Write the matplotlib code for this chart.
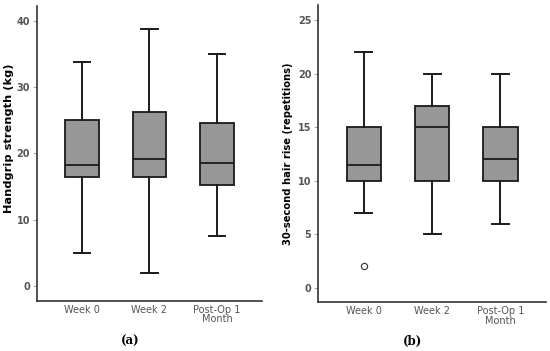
import matplotlib
matplotlib.use("Agg")
import matplotlib.pyplot as plt

categories = ["Week 0", "Week 2", "Post-Op 1\nMonth"]

# Panel (a): Handgrip strength (kg)
a_whislo = [5.0, 2.0, 7.5]
a_q1 = [16.5, 16.5, 15.3]
a_med = [18.2, 19.1, 18.6]
a_q3 = [25.0, 26.2, 24.5]
a_whishi = [33.8, 38.7, 34.9]
a_fliers = [[], [], []]

# Panel (b): 30-second chair rise (repetitions)
b_whislo = [7, 5, 6]
b_q1 = [10, 10, 10]
b_med = [11.5, 15, 12]
b_q3 = [15, 17, 15]
b_whishi = [22, 20, 20]
b_fliers = [[2], [], []]

a_ticks = [0, 10, 20, 30, 40]
b_ticks = [0, 5, 10, 15, 20, 25]

fig = plt.figure(figsize=(5.5, 3.51), dpi=100)
axA = fig.add_axes([0.0673, 0.1433, 0.409, 0.8396])
axB = fig.add_axes([0.5787, 0.1387, 0.414, 0.847])

def make_stats(lo, q1, med, q3, hi, fl):
    return [dict(whislo=lo[i], q1=q1[i], med=med[i], q3=q3[i], whishi=hi[i],
                 fliers=fl[i], label=categories[i]) for i in range(len(categories))]

def draw(ax, stats, ticks, ylim, ylabel, labsize, tag, tagx, labx, laby):
    lc = "#1a1a1a"
    ax.bxp(stats, positions=[1, 2, 3], widths=0.5, capwidths=0.25, patch_artist=True,
           boxprops=dict(facecolor="#979797", edgecolor=lc, linewidth=1.3),
           whiskerprops=dict(color=lc, linewidth=1.4),
           capprops=dict(color=lc, linewidth=1.4),
           medianprops=dict(color=lc, linewidth=1.3),
           flierprops=dict(marker="o", markersize=4.5, markerfacecolor="white",
                           markeredgecolor="#333333", markeredgewidth=0.8))
    ax.set_xlim(0.333, 3.667)
    ax.set_ylim(*ylim)
    ax.set_yticks(ticks)
    ax.set_xticks([1, 2, 3])
    ax.set_xticklabels(categories, fontsize=7, color="#555555", linespacing=0.95)
    for lab in ax.get_yticklabels():
        lab.set_fontweight("bold")
    ax.tick_params(axis="y", labelsize=7, labelcolor="#555555", color="#aaaaaa",
                   length=3, width=0.8, pad=2)
    ax.tick_params(axis="x", length=0, pad=3)
    for s in ["top", "right"]:
        ax.spines[s].set_visible(False)
    for s in ["left", "bottom"]:
        ax.spines[s].set_color("#333333")
        ax.spines[s].set_linewidth(1.2)
    ax.set_ylabel(ylabel, fontsize=labsize, fontweight="bold", color="black")
    ax.yaxis.set_label_coords(labx, laby)
    fig.text(tagx, 1 - 341 / 351, tag, fontsize=8.5, fontweight="bold",
             family="DejaVu Serif", ha="center", va="center")

draw(axA, make_stats(a_whislo, a_q1, a_med, a_q3, a_whishi, a_fliers), a_ticks,
     (-2.2, 42.2), "Handgrip strength (kg)", 8.2, "(a)", 130 / 550, -0.103, 0.55)
draw(axB, make_stats(b_whislo, b_q1, b_med, b_q3, b_whishi, b_fliers), b_ticks,
     (-1.35, 26.4), "30-second hair rise (repetitions)", 7.2, "(b)", 412 / 550, -0.112, 0.5)

fig.savefig("out.png", dpi=100)
